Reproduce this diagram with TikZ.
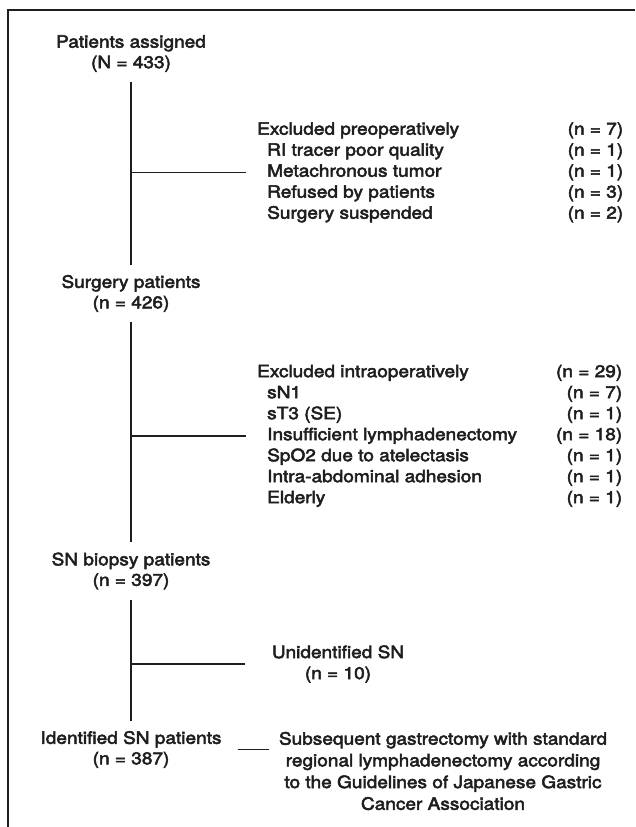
\documentclass[tikz,border=0pt]{standalone}
\usepackage{fontspec}
\setmainfont{TeX Gyre Heros}[FakeStretch=1.12,FakeBold=3]
\usetikzlibrary{calc}
\definecolor{ink}{HTML}{1E1E1E}
\begin{document}
\begin{tikzpicture}[x=1pt,y=-1pt,
  txt/.style={font=\fontsize{17}{20.5}\selectfont, inner sep=0pt, align=center, text=ink},
  lst/.style={font=\fontsize{17}{21}\selectfont, inner sep=0pt, anchor=west, text=ink},
  trunk/.style={line width=2.2pt, draw=ink, shorten <=10pt, shorten >=10pt},
  branch/.style={line width=1.7pt, draw=ink},
  frame/.style={line width=1.5pt, draw=ink}]
\useasboundingbox (0,0) rectangle (635,827);
\draw[frame] (8,827) -- (8,10) -- (635,10);

\node[txt] (pa) at (131,53.5) {Patients assigned\\(N = 433)};
\node[txt] (sp) at (131,293.5) {Surgery patients\\(n = 426)};
\node[txt] (sb) at (131,571) {SN biopsy patients\\(n = 397)};
\node[txt] (is) at (131,749.5) {Identified SN patients\\(n = 387)};
\node[txt, font=\fontsize{17}{21}\selectfont] (un) at (338,664) {Unidentified SN\\(n = 10)};
\node[txt, font=\fontsize{17}{21.7}\selectfont] (sub) at (443,771) {Subsequent gastrectomy with standard\\regional lymphadenectomy according\\to the Guidelines of Japanese Gastric\\Cancer Association};

\node[lst] (pre) at (257,172.5) {\begin{tabular*}{366pt}{@{}l@{\extracolsep{\fill}}r@{}}
Excluded preoperatively & (n = 7)\\
\hspace{10pt}RI tracer poor quality & (n = 1)\\
\hspace{10pt}Metachronous tumor & (n = 1)\\
\hspace{10pt}Refused by patients & (n = 3)\\
\hspace{10pt}Surgery suspended & (n = 2)
\end{tabular*}};

\node[lst] (intra) at (257,436) {\begin{tabular*}{365pt}{@{}l@{\extracolsep{\fill}}r@{}}
Excluded intraoperatively & (n = 29)\\
\hspace{10pt}sN1 & (n = 7)\\
\hspace{10pt}sT3 (SE) & (n = 1)\\
\hspace{10pt}Insufficient lymphadenectomy & (n = 18)\\
\hspace{10pt}SpO2 due to atelectasis & (n = 1)\\
\hspace{10pt}Intra-abdominal adhesion & (n = 1)\\
\hspace{10pt}Elderly & (n = 1)
\end{tabular*}};

\draw[trunk] (pa) -- (sp);
\draw[trunk] (sp) -- (sb);
\draw[trunk] (sb) -- (is);
\draw[branch, shorten >=11pt] (pa.south |- pre.west) -- (pre.west);
\draw[branch, shorten >=11pt] (sp.south |- intra.west) -- (intra.west);
\draw[branch, shorten >=27pt] (sb.south |- un.west) -- (un.west);
\draw[branch, shorten <=16pt, shorten >=10pt] (is.east) -- (is.east -| sub.west);
\end{tikzpicture}
\end{document}
